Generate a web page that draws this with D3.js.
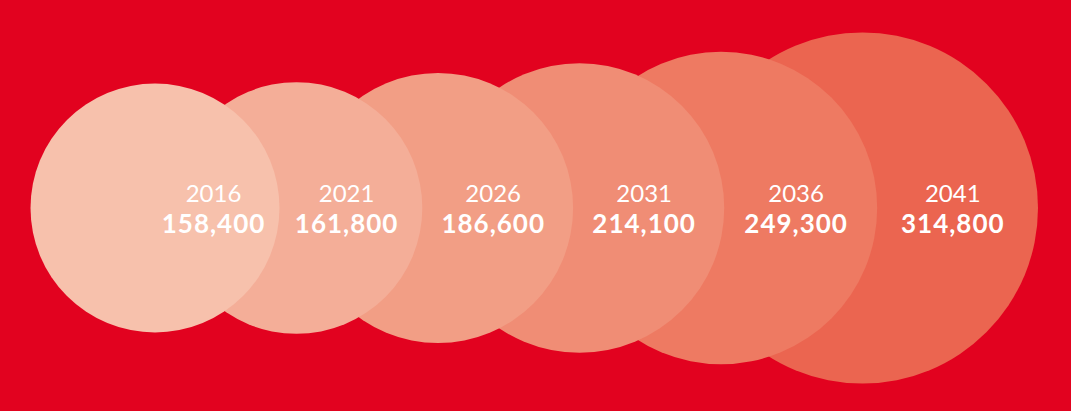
<!DOCTYPE html>
<html>
<head>
<meta charset="utf-8">
<script src="https://cdn.jsdelivr.net/npm/d3@7"></script>
<style>
  html, body { margin: 0; padding: 0; background: #e2021f; }
  svg { display: block; }
</style>
</head>
<body>
<div id="chart"></div>
<script>
// data
var years = ["2016", "2021", "2026", "2031", "2036", "2041"];
var values = [158400, 161800, 186600, 214100, 249300, 314800];
var colours = ["#f7c1ac", "#f4ae98", "#f29e85", "#f08d75", "#ee7a62", "#eb6550"];

var width = 1071, height = 411;
var cy = 208;

var svg = d3.select("#chart").append("svg")
    .attr("width", width)
    .attr("height", height);

svg.append("rect")
    .attr("width", width)
    .attr("height", height)
    .attr("fill", "#e2021f");

var x = d3.scalePoint()
    .domain(years)
    .range([155, 862.5]);

var r = d3.scaleSqrt()
    .domain([0, d3.max(values)])
    .range([0, 175.5]);

var rows = years.map(function (y, i) {
    return { year: y, value: values[i], colour: colours[i] };
});

// label sits inside the part of the circle not covered by its left neighbour
rows.forEach(function (d, i) {
    var right = x(d.year) + r(d.value);
    var left = i == 0 ? x(d.year) : x(rows[i - 1].year) + r(rows[i - 1].value);
    d.lx = left + 0.47 * (right - left);
});

// earlier years sit on top, so draw the big ones first
svg.append("g")
    .selectAll("circle")
    .data(rows.slice().reverse())
    .join("circle")
    .attr("cx", function (d) { return x(d.year); })
    .attr("cy", cy)
    .attr("r", function (d) { return r(d.value); })
    .attr("fill", function (d) { return d.colour; });

var fmt = d3.format(",");

var labels = svg.append("g")
    .selectAll("g")
    .data(rows)
    .join("g")
    .attr("transform", function (d) { return "translate(" + d.lx + ",0)"; });

labels.append("text")
    .attr("y", 202)
    .attr("text-anchor", "middle")
    .attr("fill", "#ffffff")
    .style("font-family", "Lato, sans-serif")
    .style("font-size", "24px")
    .text(function (d) { return d.year; });

labels.append("text")
    .attr("y", 233)
    .attr("text-anchor", "middle")
    .attr("fill", "#ffffff")
    .style("font-family", "Lato, sans-serif")
    .style("font-weight", "bold")
    .style("font-size", "26px")
    .style("letter-spacing", "1px")
    .text(function (d) { return fmt(d.value); });
</script>
</body>
</html>
